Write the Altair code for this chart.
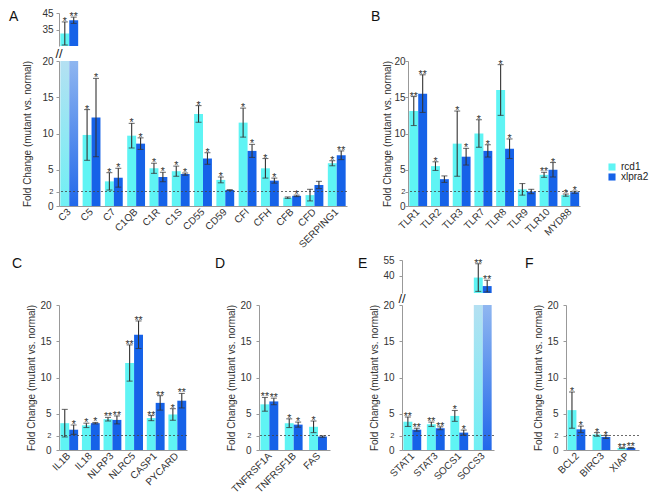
import altair as alt
import pandas as pd

FONT = "Liberation Sans"
STRAINS = ["rcd1", "xlpra2"]
COLORS = ["#5ff4f4", "#1662e8"]
GRAD_RCD1 = ["#6ff0f4", "#b4e0f2"]   # bottom -> top
GRAD_XLP = ["#2268ea", "#8fb6f0"]
Y_TITLE = "Fold Change (mutant vs. normal)"
MAIN_TICKS = [0, 2, 5, 10, 15, 20]
REF_LINE = [2]
LETTERS = ["A", "B", "C", "D", "E", "F"]

# ---- Panel A: complement
A_genes = ["C3", "C5", "C7", "C1QB", "C1R", "C1S", "CD55", "CD59", "CFI", "CFH", "CFB", "CFD", "SERPING1"]
A_rcd1 = [32.6, 9.8, 3.4, 9.7, 5.2, 4.8, 12.7, 3.6, 11.5, 5.2, 1.15, 1.5, 5.9]
A_rcd1_err = [7.0, 3.5, 1.2, 1.7, 0.7, 0.7, 1.15, 0.4, 2.0, 1.35, 0.1, 0.8, 0.35]
A_rcd1_sig = ["*", "*", "*", "*", "*", "*", "*", "*", "*", "*", "", "", "*"]
A_xlpra2 = [40.6, 12.2, 3.9, 8.6, 4.0, 4.4, 6.55, 2.2, 7.6, 3.5, 1.4, 2.9, 7.0]
A_xlpra2_err = [1.9, 5.4, 1.3, 0.8, 0.65, 0.15, 0.8, 0.05, 0.9, 0.35, 0.1, 0.5, 0.6]
A_xlpra2_sig = ["**", "*", "*", "*", "*", "*", "*", "", "*", "*", "*", "", "**"]

# ---- Panel B: TLRs
B_genes = ["TLR1", "TLR2", "TLR3", "TLR7", "TLR8", "TLR9", "TLR10", "MYD88"]
B_rcd1 = [13.1, 5.5, 8.6, 10.0, 16.0, 2.3, 4.3, 1.5]
B_rcd1_err = [2.0, 0.6, 4.5, 1.9, 3.5, 0.8, 0.35, 0.15]
B_rcd1_sig = ["**", "*", "*", "*", "*", "", "**", "*"]
B_xlpra2 = [15.5, 3.7, 6.8, 7.6, 7.9, 2.0, 5.0, 1.9]
B_xlpra2_err = [2.6, 0.45, 1.15, 0.85, 1.35, 0.3, 1.0, 0.15]
B_xlpra2_sig = ["**", "", "*", "*", "*", "", "*", "*"]

# ---- Panel C: inflammasome
C_genes = ["IL1B", "IL18", "NLRP3", "NLRC5", "CASP1", "PYCARD"]
C_rcd1 = [3.7, 3.4, 4.25, 12.0, 4.4, 4.9]
C_rcd1_err = [1.9, 0.3, 0.25, 2.5, 0.35, 0.8]
C_rcd1_sig = ["", "*", "**", "**", "**", "*"]
C_xlpra2 = [2.8, 3.7, 4.15, 15.9, 6.5, 6.8]
C_xlpra2_err = [0.65, 0.1, 0.55, 1.9, 1.0, 1.0]
C_xlpra2_sig = ["*", "*", "**", "**", "**", "**"]

# ---- Panel D: TNF receptors
D_genes = ["TNFRSF1A", "TNFRSF1B", "FAS"]
D_rcd1 = [6.3, 3.7, 3.2]
D_rcd1_err = [0.95, 0.6, 0.8]
D_rcd1_sig = ["**", "*", "*"]
D_xlpra2 = [6.7, 3.5, 1.85]
D_xlpra2_err = [0.45, 0.35, 0.1]
D_xlpra2_sig = ["**", "*", ""]

# ---- Panel E: STAT / SOCS
E_genes = ["STAT1", "STAT3", "SOCS1", "SOCS3"]
E_rcd1 = [3.9, 3.55, 4.7, 38.5]
E_rcd1_err = [0.65, 0.3, 0.75, 13.0]
E_rcd1_sig = ["**", "**", "*", "**"]
E_xlpra2 = [2.8, 3.0, 2.4, 30.5]
E_xlpra2_err = [0.2, 0.2, 0.35, 5.5]
E_xlpra2_sig = ["**", "**", "*", "**"]

# ---- Panel F: apoptosis inhibitors
F_genes = ["BCL2", "BIRC3", "XIAP"]
F_rcd1 = [5.5, 2.15, 0.28]
F_rcd1_err = [2.5, 0.25, 0.03]
F_rcd1_sig = ["*", "*", "**"]
F_xlpra2 = [2.85, 1.8, 0.3]
F_xlpra2_err = [0.45, 0.2, 0.05]
F_xlpra2_sig = ["*", "*", "**"]


def build_df(genes, r, re, rs, x, xe, xs):
    rows = []
    for i, g in enumerate(genes):
        rows.append(dict(gene=g, strain="rcd1", value=r[i], err=re[i], sig=rs[i]))
        rows.append(dict(gene=g, strain="xlpra2", value=x[i], err=xe[i], sig=xs[i]))
    df = pd.DataFrame(rows)
    df["lo"] = df["value"] - df["err"]
    df["hi"] = df["value"] + df["err"]
    df["cut"] = df["value"] > 20
    return df


def grad(stops):
    return alt.LinearGradient(
        gradient="linear",
        stops=[alt.GradientStop(color=stops[0], offset=0),
               alt.GradientStop(color=stops[1], offset=1)],
        x1=0, x2=0, y1=1, y2=0,
    )


def x_enc(genes):
    sc = alt.Scale(domain=genes, paddingInner=0.2, paddingOuter=0.06)
    ax = alt.Axis(labelAngle=-45, labelAlign="right", labelBaseline="middle",
                  ticks=False, labelPadding=4, labelFontSize=10, title=None)
    return alt.X("gene:N", sort=genes, scale=sc, axis=ax)


XO = alt.XOffset("strain:N", scale=alt.Scale(domain=STRAINS))
LABEL_SIZE = {"condition": {"test": "datum.value == 2", "value": 7.5}, "value": 10}


def color_enc(legend):
    if legend is None:
        return alt.Color("strain:N", scale=alt.Scale(domain=STRAINS, range=COLORS), legend=None)
    return alt.Color("strain:N", scale=alt.Scale(domain=STRAINS, range=COLORS), legend=legend)


def err_layers(base, yscale, yax):
    rule = base.mark_rule(color="#333", strokeWidth=1.1).encode(
        y=alt.Y("lo:Q", scale=yscale, axis=yax), y2="hi:Q")
    cap_lo = base.mark_tick(size=6, thickness=1.1, color="#333").encode(
        y=alt.Y("lo:Q", scale=yscale, axis=yax))
    cap_hi = base.mark_tick(size=6, thickness=1.1, color="#333").encode(
        y=alt.Y("hi:Q", scale=yscale, axis=yax))
    stars = base.mark_text(fontSize=10.5, baseline="alphabetic", dy=3, color="#333").encode(
        y=alt.Y("hi:Q", scale=yscale, axis=yax), text="sig:N")
    return [rule, cap_lo, cap_hi, stars]


def letter_chart(letter, dx, dy=-3):
    return alt.Chart(pd.DataFrame({"t": [letter]})).mark_text(
        align="left", baseline="top", fontSize=14, color="#111").encode(
        text="t:N", x=alt.value(dx), y=alt.value(dy))


def panel(df, genes, width, letter, ldx, top_h, gap, lpad, tpad, main_h=145,
          top_domain=None, top_ticks=None, legend=None):
    H = top_h + gap + main_h
    base = alt.Chart(df).encode(x=x_enc(genes), xOffset=XO)
    normal = base.transform_filter("!datum.cut")

    mscale = alt.Scale(domain=[0, 20], range=[H, top_h + gap], clamp=True, nice=False, zero=False)
    max_ = alt.Axis(values=MAIN_TICKS, title=Y_TITLE, titleFontSize=10, titleFontWeight="normal",
                    titlePadding=tpad, labelFontSize=LABEL_SIZE, tickSize=3, labelPadding=lpad,
                    orient="left")
    bars = normal.mark_bar().encode(y=alt.Y("value:Q", scale=mscale, axis=max_),
                                    color=color_enc(legend))
    cut_r = base.transform_filter("datum.cut && datum.strain == 'rcd1'").mark_bar(
        color=grad(GRAD_RCD1)).encode(y=alt.Y("value:Q", scale=mscale, axis=max_))
    cut_x = base.transform_filter("datum.cut && datum.strain == 'xlpra2'").mark_bar(
        color=grad(GRAD_XLP)).encode(y=alt.Y("value:Q", scale=mscale, axis=max_))
    ref = alt.Chart(pd.DataFrame({"ref": REF_LINE})).mark_rule(
        strokeDash=[2, 2], color="#444", strokeWidth=0.8).encode(
        y=alt.Y("ref:Q", scale=mscale, axis=max_))
    main = alt.layer(bars, cut_r, cut_x, ref, *err_layers(normal, mscale, max_))

    let = letter_chart(letter, ldx)
    if top_domain is None:
        chart = alt.layer(main, let)
    else:
        tscale = alt.Scale(domain=top_domain, range=[top_h, 0], clamp=True, nice=False, zero=False)
        tax = alt.Axis(values=top_ticks, title=None, labelFontSize=10, tickSize=3,
                       labelPadding=lpad, orient="left")
        tbase = base.transform_filter("datum.cut")
        tbars = tbase.mark_bar().encode(y=alt.Y("value:Q", scale=tscale, axis=tax),
                                        color=color_enc(None))
        top = alt.layer(tbars, *err_layers(tbase, tscale, tax))
        brk = alt.Chart(pd.DataFrame({"t": ["//"]})).mark_text(
            fontSize=13, color="#222", align="center", baseline="middle").encode(
            text="t:N", x=alt.value(0), y=alt.value(top_h + gap / 2))
        chart = alt.layer(top, main, brk, let).resolve_scale(y="independent")
    return chart.properties(width=width, height=H)


dfA = build_df(A_genes, A_rcd1, A_rcd1_err, A_rcd1_sig, A_xlpra2, A_xlpra2_err, A_xlpra2_sig)
dfB = build_df(B_genes, B_rcd1, B_rcd1_err, B_rcd1_sig, B_xlpra2, B_xlpra2_err, B_xlpra2_sig)
dfC = build_df(C_genes, C_rcd1, C_rcd1_err, C_rcd1_sig, C_xlpra2, C_xlpra2_err, C_xlpra2_sig)
dfD = build_df(D_genes, D_rcd1, D_rcd1_err, D_rcd1_sig, D_xlpra2, D_xlpra2_err, D_xlpra2_sig)
dfE = build_df(E_genes, E_rcd1, E_rcd1_err, E_rcd1_sig, E_xlpra2, E_xlpra2_err, E_xlpra2_sig)
dfF = build_df(F_genes, F_rcd1, F_rcd1_err, F_rcd1_sig, F_xlpra2, F_xlpra2_err, F_xlpra2_sig)

LEGEND = alt.Legend(title=None, orient="none", legendX=199, legendY=149, symbolType="square",
                    symbolSize=50, symbolStrokeWidth=0, labelFontSize=10, labelColor="#222",
                    rowPadding=0, padding=0, labelFont=FONT)

pA = panel(dfA, A_genes, 288, LETTERS[0], -50, 33, 15, 3, 9, top_domain=[25, 45], top_ticks=[35, 45])
pB = panel(dfB, B_genes, 172, LETTERS[1], -37, 33, 15, 0, 1, legend=LEGEND)
pC = panel(dfC, C_genes, 128, LETTERS[2], -47, 33, 12, 5, 3)
pD = panel(dfD, D_genes, 71, LETTERS[3], -44, 33, 12, 5, 3)
pE = panel(dfE, E_genes, 92, LETTERS[4], -44, 33, 12, 5, 3, top_domain=[24, 55], top_ticks=[40, 55])
pF = panel(dfF, F_genes, 73, LETTERS[5], -41, 33, 12, 5, 3)

row1 = alt.hconcat(pA, pB, spacing=61, bounds="flush").resolve_scale(color="independent")
row2 = alt.hconcat(pC, pD, pE, pF, spacing=72, bounds="flush").resolve_scale(color="independent")

chart = alt.vconcat(row1, row2, spacing=5).resolve_scale(color="independent").properties(
    padding={"left": 1, "top": 0, "right": 0, "bottom": 0}
).configure(font=FONT).configure_view(stroke=None).configure_axis(
    domainColor="#999", tickColor="#999", labelColor="#333", titleColor="#333",
    labelFont=FONT, titleFont=FONT, grid=False
)

chart.save("out.html", embed_options={"renderer": "svg", "actions": False})
